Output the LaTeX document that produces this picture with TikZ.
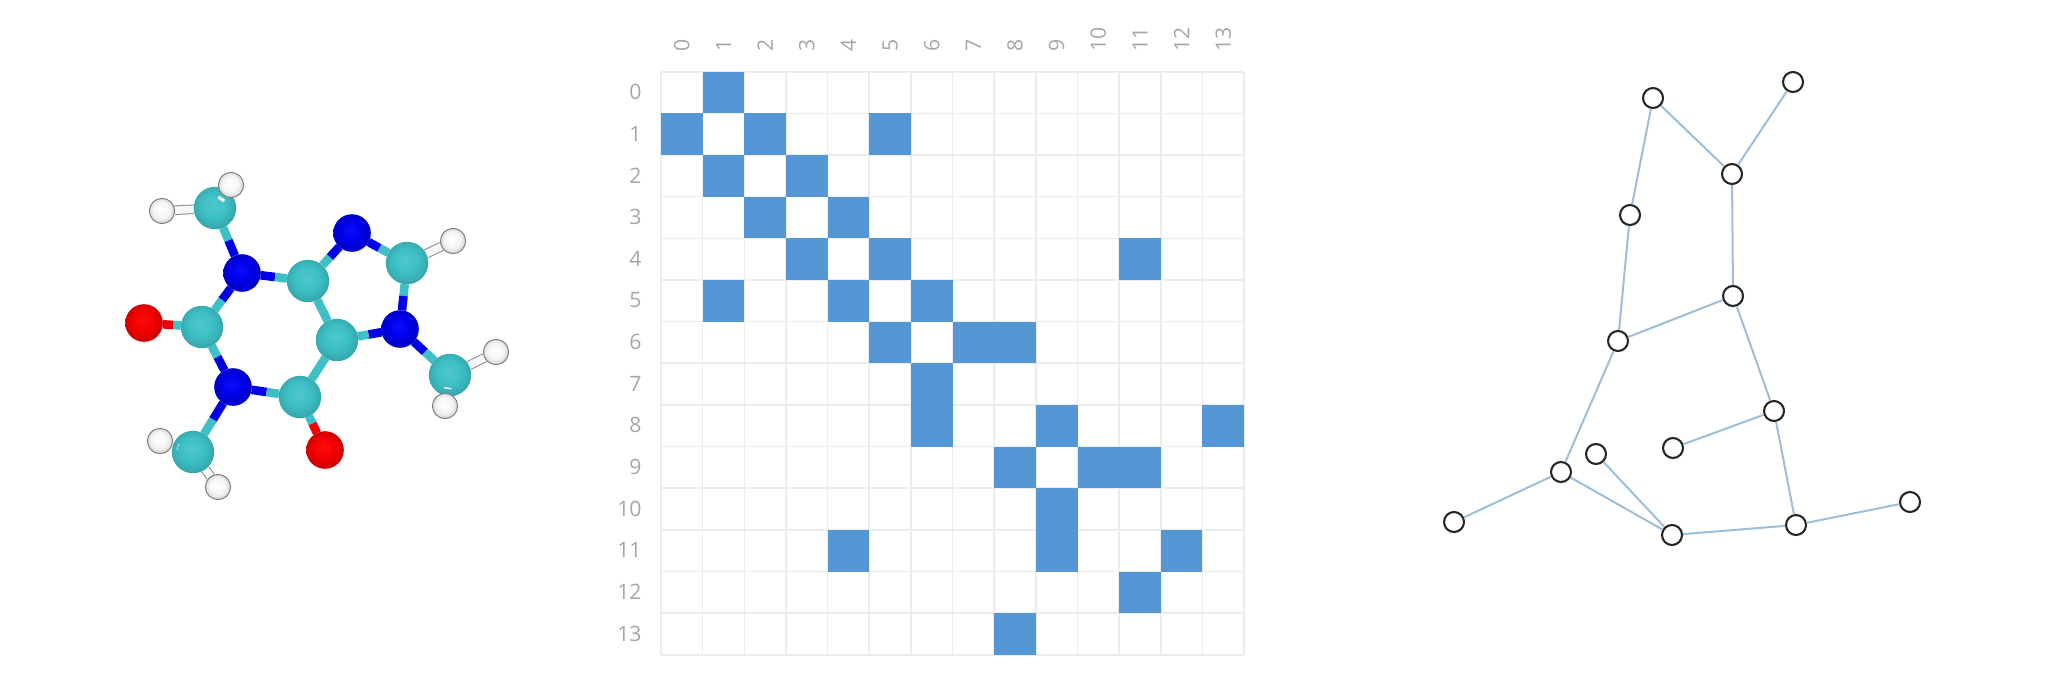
\documentclass[tikz,border=0pt]{standalone}
\usepackage{fontspec}
\setmainfont{Open Sans}
\usetikzlibrary{calc}
\pgfdeclarelayer{bonds}
\pgfsetlayers{bonds,main}
\definecolor{cellblue}{HTML}{5597D4}
\definecolor{gridgray}{HTML}{ECECEE}
\definecolor{labelgray}{HTML}{A6A6A6}
\definecolor{edgeblue}{HTML}{9DBEDA}
\definecolor{ringblack}{HTML}{262626}
\definecolor{bondcyan}{HTML}{3DC0C6}
\definecolor{bondblue}{HTML}{0000E6}
\definecolor{bondred}{HTML}{F00000}
\definecolor{bondwhite}{HTML}{F6F6F6}
\pgfdeclareradialshading{cyanball}{\pgfpoint{-2bp}{4bp}}{color(0bp)=(bondcyan!90!white); color(14bp)=(bondcyan); color(25bp)=(bondcyan!88!black); color(29bp)=(bondcyan!76!black); color(50bp)=(bondcyan!76!black)}
\pgfdeclareradialshading{blueball}{\pgfpoint{-2bp}{4bp}}{color(0bp)=(blue!95!white); color(14bp)=(bondblue); color(26bp)=(bondblue!85!black); color(30bp)=(bondblue!78!black); color(50bp)=(bondblue!78!black)}
\pgfdeclareradialshading{redball}{\pgfpoint{-2bp}{4bp}}{color(0bp)=(red!95!white); color(14bp)=(bondred); color(26bp)=(bondred!85!black); color(30bp)=(bondred!78!black); color(50bp)=(bondred!78!black)}
\pgfdeclareradialshading{whiteball}{\pgfpoint{-2bp}{3bp}}{color(0bp)=(white); color(16bp)=(white!96!black); color(25bp)=(white!84!black); color(50bp)=(white!84!black)}
\newcommand{\bondhalf}[4]{%
  \draw[bondline,draw=#3] (#1) -- ($(#1)!.5!(#2)$) ;
  \draw[bondline,draw=#4] (#2) -- ($(#1)!.5!(#2)$) ;
}

\begin{document}
\begin{tikzpicture}[
                x=0.5pt,y=-0.5pt,
                atom/.style={circle,inner sep=0pt,outer sep=0pt},
                carbon/.style={atom,shading=cyanball,minimum size=21.2pt},
                nitrogen/.style={atom,shading=blueball,minimum size=18.8pt},
                oxygen/.style={atom,shading=redball,minimum size=18.8pt},
                hydrogen/.style={atom,shading=whiteball,draw=black!50,line width=0.5pt,minimum size=12.6pt},
                bondline/.style={line width=4.3pt},
                hbond/.style={draw=black!45,line width=0.5pt,double=bondwhite,double distance=3.8pt},
                rowlabel/.style={text=labelgray,font=\fontsize{10.6}{12}\selectfont,inner sep=0pt,anchor=east},
                collabel/.style={text=labelgray,font=\fontsize{10.6}{12}\selectfont,inner sep=0pt,anchor=west,rotate=90},
                gridline/.style={draw=gridgray,line width=0.8pt},
                vertex/.style={circle,draw=ringblack,line width=1.05pt,fill=white,inner sep=0pt,minimum size=10pt},
                link/.style={draw=edgeblue,line width=1pt},
              ]
              \useasboundingbox (0,0) rectangle (2048,685) ;
              % molecule
              \node[carbon] at (215,208) (cmeA) {} ;
              \node[nitrogen] at (242,273) (nA) {} ;
              \node[carbon] at (308,281) (cA) {} ;
              \node[nitrogen] at (352,233) (nB) {} ;
              \node[carbon] at (407,263) (cB) {} ;
              \node[nitrogen] at (400,329) (nC) {} ;
              \node[carbon] at (337,340) (cC) {} ;
              \node[carbon] at (202,327) (cD) {} ;
              \node[oxygen] at (144,323) (oA) {} ;
              \node[nitrogen] at (233,387) (nD) {} ;
              \node[carbon] at (300,397) (cE) {} ;
              \node[oxygen] at (325,450) (oB) {} ;
              \node[carbon] at (193,452) (cmeB) {} ;
              \node[carbon] at (450,375) (cmeC) {} ;
              \begin{pgfonlayer}{bonds}
              \foreach \a/\ca/\b/\cb in {
                cmeA/bondcyan/nA/bondblue,nA/bondblue/cA/bondcyan,cA/bondcyan/nB/bondblue,
                nB/bondblue/cB/bondcyan,cB/bondcyan/nC/bondblue,nC/bondblue/cC/bondcyan,
                cA/bondcyan/cC/bondcyan,nA/bondblue/cD/bondcyan,cD/bondcyan/oA/bondred,
                cD/bondcyan/nD/bondblue,nD/bondblue/cE/bondcyan,cE/bondcyan/cC/bondcyan,
                cE/bondcyan/oB/bondred,nD/bondblue/cmeB/bondcyan,nC/bondblue/cmeC/bondcyan}
                {\bondhalf{\a}{\b}{\ca}{\cb}}
              \end{pgfonlayer}
              \node[hydrogen] at (162,211) (hA) {} ;
              \node[hydrogen] at (231,185) (hB) {} ;
              \node[hydrogen] at (453,241) (hC) {} ;
              \node[hydrogen] at (160,441) (hD) {} ;
              \node[hydrogen] at (218,487) (hE) {} ;
              \node[hydrogen] at (496,352) (hF) {} ;
              \node[hydrogen] at (445,406) (hG) {} ;
              \begin{pgfonlayer}{bonds}
              \foreach \a/\b in {cmeA/hA,cB/hC,cmeB/hE,cmeC/hF}
                {\draw[hbond] (\a) -- (\b) ;}
              \end{pgfonlayer}
              \foreach \a/\b in {cmeA/hB,cmeB/hD,cmeC/hG}
                {\draw[bondline,draw=bondwhite,line width=3.6pt,shorten >=3pt] ($(\a)!.45!(\b)$) -- (\b) ;}
              % adjacency matrix
              \foreach \i in {0,...,14}
              {
                \draw[gridline] (661,71.7+41.65*\i) -- (1244.1,71.7+41.65*\i) ;
                \draw[gridline] (661+41.65*\i,71.7) -- (661+41.65*\i,654.8) ;
              }
              \foreach \r/\c in {0/1,1/0,1/2,1/5,2/1,2/3,3/2,3/4,4/3,4/5,4/11,5/1,5/4,5/6,6/5,6/7,6/8,7/6,
                8/6,8/9,8/13,9/8,9/10,9/11,10/9,11/4,11/9,11/12,12/11,13/8}
                {\fill[cellblue] (661+41.65*\c,71.7+41.65*\r) rectangle ++(41.65,41.65) ;}
              \foreach \i in {0,...,13}
              {
                \node[rowlabel] at (642,92.2+41.65*\i) (row\i) {\i} ;
                \node[collabel] at (681.8+41.65*\i,52) (col\i) {\i} ;
              }
              % graph
              \node[vertex] at (1653,98) (v0) {} ;
              \node[vertex] at (1793,82) (v1) {} ;
              \node[vertex] at (1732,174) (v2) {} ;
              \node[vertex] at (1630,215) (v3) {} ;
              \node[vertex] at (1733,296) (v4) {} ;
              \node[vertex] at (1618,341) (v5) {} ;
              \node[vertex] at (1774,411) (v6) {} ;
              \node[vertex] at (1673,448) (v7) {} ;
              \node[vertex] at (1596,454) (v8) {} ;
              \node[vertex] at (1561,472) (v9) {} ;
              \node[vertex] at (1454,522) (v10) {} ;
              \node[vertex] at (1672,535) (v11) {} ;
              \node[vertex] at (1796,525) (v12) {} ;
              \node[vertex] at (1910,502) (v13) {} ;
              \draw[link] (v0)--(v3) ;
              \draw[link] (v0)--(v2) ;
              \draw[link] (v1)--(v2) ;
              \draw[link] (v2)--(v4) ;
              \draw[link] (v3)--(v5) ;
              \draw[link] (v4)--(v5) ;
              \draw[link] (v4)--(v6) ;
              \draw[link] (v5)--(v9) ;
              \draw[link] (v6)--(v7) ;
              \draw[link] (v6)--(v12) ;
              \draw[link] (v9)--(v10) ;
              \draw[link] (v9)--(v11) ;
              \draw[link] (v8)--(v11) ;
              \draw[link] (v11)--(v12) ;
              \draw[link] (v12)--(v13) ;
              \end{tikzpicture}
\end{document}
